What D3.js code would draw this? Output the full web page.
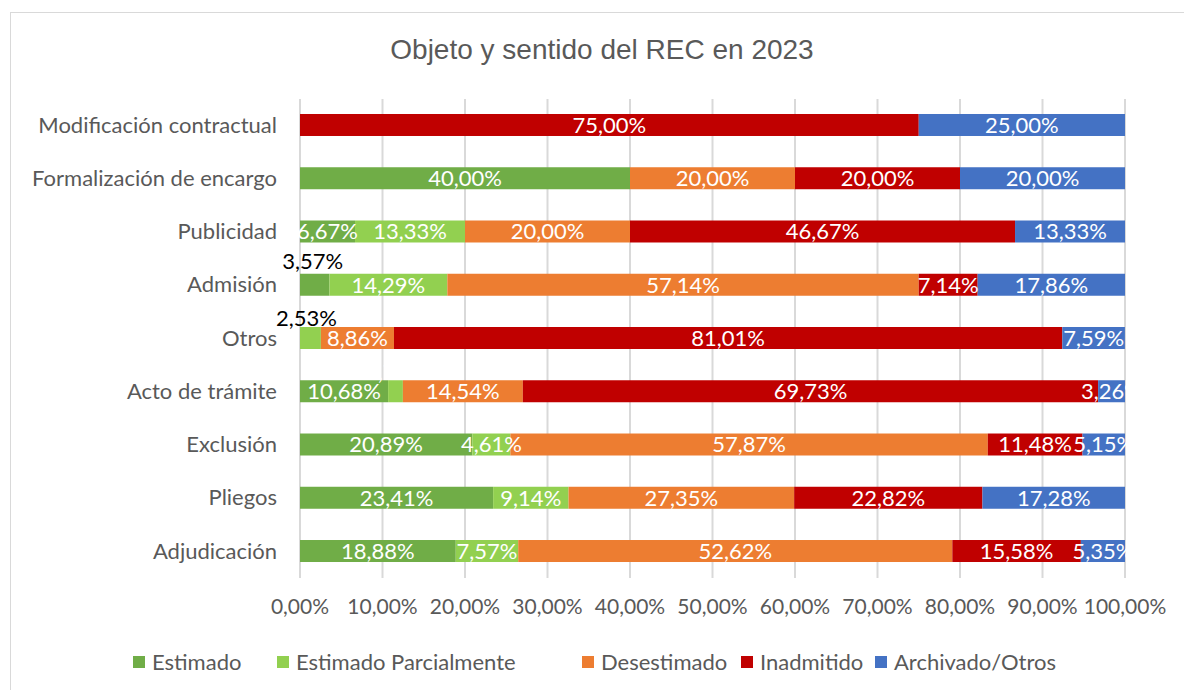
<!DOCTYPE html>
<html>
<head>
<meta charset="utf-8">
<script src="https://cdn.jsdelivr.net/npm/d3@7"></script>
<style>
  body { margin: 0; background: #fff; }
  svg { display: block; }
  text { font-family: Lato, "Open Sans", sans-serif; }
</style>
</head>
<body>
<svg id="chart" width="1184" height="690"></svg>
<script>
// categories, top to bottom
const categories = [
  "Modificación contractual",
  "Formalización de encargo",
  "Publicidad",
  "Admisión",
  "Otros",
  "Acto de trámite",
  "Exclusión",
  "Pliegos",
  "Adjudicación"
];

// series (percent per category)
const estimado            = [0, 40.00, 6.67, 3.57, 0, 10.68, 20.89, 23.41, 18.88];
const estimadoParcial     = [0, 0, 13.33, 14.29, 2.53, 1.79, 4.61, 9.14, 7.57];
const desestimado         = [0, 20.00, 20.00, 57.14, 8.86, 14.54, 57.87, 27.35, 52.62];
const inadmitido          = [75.00, 20.00, 46.67, 7.14, 81.01, 69.73, 11.48, 22.82, 15.58];
const archivado           = [25.00, 20.00, 13.33, 17.86, 7.59, 3.26, 5.15, 17.28, 5.35];

const seriesNames = ["Estimado", "Estimado Parcialmente", "Desestimado", "Inadmitido", "Archivado/Otros"];
const seriesValues = [estimado, estimadoParcial, desestimado, inadmitido, archivado];
const colors = ["#70ad47", "#92d050", "#ed7d31", "#c00000", "#4472c4"];

const ticks = [0, 0.1, 0.2, 0.3, 0.4, 0.5, 0.6, 0.7, 0.8, 0.9, 1.0];

// labels that were moved above the bar: [colour, dx, dy]
const outsideLabels = {
  "Admisión|0": ["#000", -2, -23.5],
  "Otros|1": ["#000", -4, -20],
  "Acto de trámite|1": ["#fff", 0, -19]
};

const svg = d3.select("#chart");
const locale = d3.formatLocale({ decimal: ",", thousands: ".", grouping: [3], currency: ["", "€"] });
const pct = locale.format(".2%");

// chart frame
svg.append("rect")
  .attr("x", 10.5).attr("y", 12.5)
  .attr("width", 1190).attr("height", 700)
  .attr("fill", "#fff")
  .attr("stroke", "#d9d9d9");

svg.append("text")
  .attr("x", 602).attr("y", 59)
  .attr("text-anchor", "middle")
  .style("font-family", "'Liberation Sans', Arial, sans-serif")
  .style("font-size", "28px")
  .attr("fill", "#595959")
  .text("Objeto y sentido del REC en 2023");

const x = d3.scaleLinear().domain([0, 1]).range([300, 1125]);
const y = d3.scaleBand().domain(categories).range([98.5, 577.5])
  .paddingInner(0.587).paddingOuter(0.291);

// gridlines
svg.append("g")
  .selectAll("line")
  .data(ticks)
  .join("line")
  .attr("x1", d => x(d)).attr("x2", d => x(d))
  .attr("y1", 99).attr("y2", 578)
  .attr("stroke", "#d9d9d9")
  .attr("stroke-width", 2);

// tick labels
svg.append("g")
  .selectAll("text")
  .data(ticks)
  .join("text")
  .attr("x", d => x(d))
  .attr("y", 614)
  .attr("text-anchor", "middle")
  .attr("fill", "#595959")
  .style("font-size", "21px")
  .text(d => pct(d));

// category labels
svg.append("g")
  .selectAll("text")
  .data(categories)
  .join("text")
  .attr("x", 277)
  .attr("y", d => y(d) + y.bandwidth() / 2)
  .attr("dy", "0.35em")
  .attr("text-anchor", "end")
  .attr("fill", "#595959")
  .style("font-size", "22px")
  .text(d => d);

// stacked segments
const rows = categories.map((c, i) => {
  const r = { cat: c };
  seriesNames.forEach((s, j) => r[s] = seriesValues[j][i] / 100);
  return r;
});
const stack = d3.stack().keys(seriesNames)(rows);

const layers = svg.append("g")
  .selectAll("g")
  .data(stack)
  .join("g")
  .attr("fill", (d, i) => colors[i]);

layers.selectAll("rect")
  .data(d => d.filter(p => p[1] - p[0] > 0))
  .join("rect")
  .attr("x", d => x(d[0]))
  .attr("y", d => y(d.data.cat))
  .attr("width", d => x(d[1]) - x(d[0]))
  .attr("height", y.bandwidth());

// data labels
const labels = [];
stack.forEach((layer, j) => {
  layer.forEach(p => {
    const v = p[1] - p[0];
    if (v <= 0) return;
    const o = outsideLabels[p.data.cat + "|" + j] || ["#fff", 0, 0];
    labels.push({ cat: p.data.cat, v, mid: (p[0] + p[1]) / 2, o });
  });
});

svg.append("g")
  .selectAll("text")
  .data(labels)
  .join("text")
  .attr("x", d => x(d.mid) + d.o[1])
  .attr("y", d => y(d.cat) + y.bandwidth() / 2 + d.o[2])
  .attr("dy", "0.36em")
  .attr("text-anchor", "middle")
  .attr("fill", d => d.o[0])
  .style("font-size", "22px")
  .text(d => pct(d.v));

// legend
const legendX = [133, 277, 582, 741, 875];
const legend = svg.append("g")
  .selectAll("g")
  .data(seriesNames)
  .join("g")
  .attr("transform", (d, i) => `translate(${legendX[i]},662)`);

legend.append("rect")
  .attr("x", 0).attr("y", -6)
  .attr("width", 12).attr("height", 12)
  .attr("fill", (d, i) => colors[i]);

legend.append("text")
  .attr("x", 19).attr("dy", "0.35em")
  .attr("fill", "#595959")
  .style("font-size", "22px")
  .text(d => d);
</script>
</body>
</html>
